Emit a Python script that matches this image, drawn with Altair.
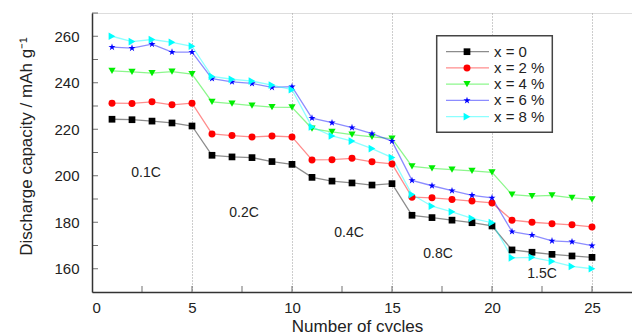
import altair as alt
import pandas as pd

labels = ["x = 0", "x = 2 %", "x = 4 %", "x = 6 %", "x = 8 %"]
cycles = list(range(1, 26))
cap_x0 = [224.3, 224.1, 223.5, 222.7, 221.4, 208.8, 208.1, 207.8, 206.1, 204.9,
          199.3, 197.7, 196.9, 196.0, 196.6, 183.0, 182.0, 180.9, 179.8, 178.4,
          168.1, 167.1, 166.2, 165.5, 164.9]
cap_x2 = [231.2, 231.1, 231.8, 230.5, 231.2, 218.0, 217.3, 216.7, 217.1, 216.7,
          206.8, 206.9, 207.5, 206.0, 205.1, 190.8, 190.5, 189.8, 189.1, 188.3,
          180.9, 180.0, 179.4, 178.9, 178.0]
cap_x4 = [245.1, 244.7, 244.1, 244.8, 243.7, 231.8, 231.0, 230.2, 229.5, 229.4,
          220.3, 218.9, 217.7, 216.7, 216.0, 204.0, 203.2, 202.6, 202.1, 201.5,
          191.9, 191.2, 191.6, 190.5, 189.8]
cap_x6 = [255.3, 254.9, 256.6, 253.2, 253.2, 241.8, 240.4, 239.7, 238.0, 238.3,
          224.8, 222.8, 220.7, 218.1, 214.9, 198.0, 195.7, 193.6, 191.6, 190.5,
          176.0, 174.5, 172.0, 171.6, 169.9]
cap_x8 = [260.0, 257.7, 258.6, 257.4, 255.7, 242.7, 241.5, 240.7, 239.0, 237.0,
          221.0, 217.1, 214.9, 211.7, 207.8, 191.9, 186.9, 184.5, 181.7, 179.8,
          164.7, 164.9, 163.2, 161.0, 160.0]

rate_labels = ["0.1C", "0.2C", "0.4C", "0.8C", "1.5C"]
rate_x = [2.7, 7.6, 12.85, 17.3, 22.5]
rate_y = [201.0, 184.0, 175.3, 166.4, 157.6]

x_ticks = [2.5, 5, 7.5, 10, 12.5, 15, 17.5, 20, 22.5, 25]
y_ticks = [160, 170, 180, 190, 200, 210, 220, 230, 240, 250, 260, 270]

colors = ["#000000", "#ff0000", "#00ee00", "#0000ff", "#00ffff"]
star = ("M0,-1L0.225,-0.309L0.951,-0.309L0.363,0.118L0.588,0.809L0,0.382"
        "L-0.588,0.809L-0.363,0.118L-0.951,-0.309L-0.225,-0.309Z")
shapes = ["square", "circle", "triangle-down", star, "triangle-right"]
sizes = [45, 60, 70, 80, 70]

series = [cap_x0, cap_x2, cap_x4, cap_x6, cap_x8]
rows = []
for lab, vals in zip(labels, series):
    for c, v in zip(cycles, vals):
        rows.append({"series": lab, "cycle": c, "cap": v})
df = pd.DataFrame(rows)
rates = pd.DataFrame({"t": rate_labels, "x": rate_x, "y": rate_y})
xt = pd.DataFrame({"t": x_ticks})
yt = pd.DataFrame({"t": y_ticks})
leg = pd.DataFrame({"series": labels})

xs = alt.Scale(domain=[0, 27], nice=False, zero=False)
ys = alt.Scale(domain=[150, 270], nice=False, zero=False)
xaxis = alt.Axis(values=[0, 5, 10, 15, 20, 25], title="Number of cycles",
                 grid=True, gridDash=[1, 2], gridColor="#9a9a9a", gridWidth=1,
                 ticks=False, labelFontSize=15, labelColor="#222", labelPadding=8,
                 domainColor="#333", domainWidth=1.5, titleFontSize=17,
                 titleFontWeight="normal", titleColor="#222",
                 titleX=265, titleY=34, titleBaseline="middle", titleAlign="center")
yaxis = alt.Axis(values=[160, 180, 200, 220, 240, 260],
                 title="Discharge capacity / mAh g\u207b\u00b9",
                 grid=False, ticks=False, labelFontSize=15, labelColor="#222",
                 labelPadding=13, domainColor="#333", domainWidth=1.5,
                 titleFontSize=17, titleFontWeight="normal", titleColor="#222",
                 titleAngle=270, titleX=-66, titleY=133, titleBaseline="middle",
                 titleAlign="center")
cscale = alt.Scale(domain=labels, range=colors)
sscale = alt.Scale(domain=labels, range=shapes)
zscale = alt.Scale(domain=labels, range=sizes)

X = lambda f: alt.X(f, scale=xs, axis=xaxis)
Y = lambda f: alt.Y(f, scale=ys, axis=yaxis)

lines = alt.Chart(df).mark_line(strokeWidth=1.3, opacity=0.45).encode(
    x=X("cycle:Q"), y=Y("cap:Q"),
    color=alt.Color("series:N", scale=cscale, legend=None),
    detail="series:N")
points = alt.Chart(df).mark_point(filled=True, opacity=1).encode(
    x=X("cycle:Q"), y=Y("cap:Q"),
    color=alt.Color("series:N", scale=cscale, legend=None),
    shape=alt.Shape("series:N", scale=sscale, legend=None),
    size=alt.Size("series:N", scale=zscale, legend=None))
texts = alt.Chart(rates).mark_text(fontSize=14, color="#222").encode(
    x=X("x:Q"), y=Y("y:Q"), text="t:N")
xticks = alt.Chart(xt).mark_tick(orient="vertical", size=6, thickness=1, color="#333").encode(
    x=X("t:Q"), y=alt.value(276))
yticks = alt.Chart(yt).mark_tick(orient="horizontal", size=6, thickness=1, color="#333").encode(
    y=Y("t:Q"), x=alt.value(3))

main = alt.layer(lines, points, texts, xticks, yticks)

ly = alt.Y("series:N", scale=alt.Scale(type="point", domain=labels, range=[38.7, 103.7], padding=0), axis=None)
box = alt.Chart(pd.DataFrame({"a": [0]})).mark_rect(fill="white", stroke="#444", strokeWidth=1.5).encode(
    x=alt.value(344.7), x2=alt.value(460.3), y=alt.value(22.7), y2=alt.value(119.3))
lrules = alt.Chart(leg).mark_rule(strokeWidth=1.3, opacity=0.45).encode(
    x=alt.value(354), x2=alt.value(397), y=ly,
    color=alt.Color("series:N", scale=cscale, legend=None))
lpts = alt.Chart(leg).mark_point(filled=True, opacity=1).encode(
    x=alt.value(375), y=ly,
    color=alt.Color("series:N", scale=cscale, legend=None),
    shape=alt.Shape("series:N", scale=sscale, legend=None),
    size=alt.Size("series:N", scale=zscale, legend=None))
ltxt = alt.Chart(leg).mark_text(align="left", baseline="middle", fontSize=15, color="#222").encode(
    x=alt.value(402), y=ly, text="series:N")
legend = alt.layer(box, lrules, lpts, ltxt)

chart = alt.layer(main, legend).resolve_scale(x="independent", y="independent").properties(
    width=540, height=279,
    autosize=alt.AutoSizeParams(type="none"),
    padding={"left": 84, "top": 5, "right": 0, "bottom": 40},
).configure_view(stroke=None).configure(font="Liberation Sans")

chart.save("out.html", embed_options={"renderer": "svg", "actions": False})
